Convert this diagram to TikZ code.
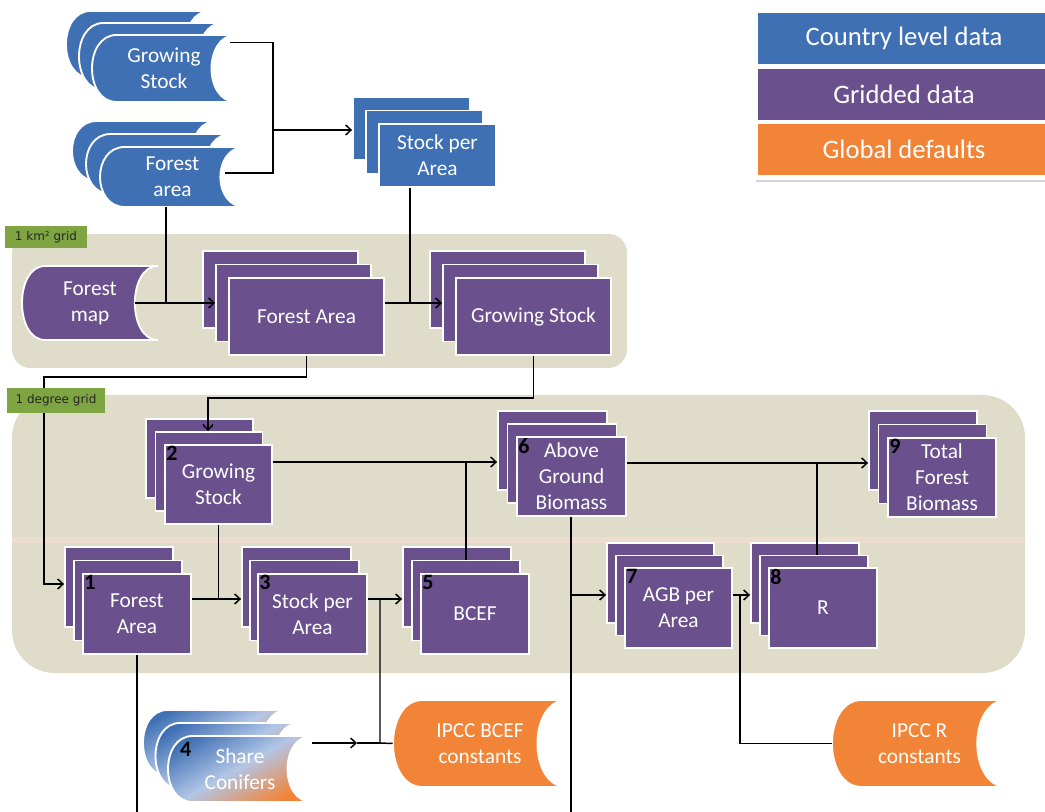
\documentclass[tikz,border=0pt]{standalone}
\usepackage{fontspec}
\setmainfont{Carlito}
\newfontfamily\lblfont{DejaVu Sans}
\usetikzlibrary{arrows.meta,calc,shadows}
\definecolor{cblue}{RGB}{64,112,180}
\definecolor{cpurple}{RGB}{106,81,142}
\definecolor{corange}{RGB}{242,132,56}
\definecolor{cbeige}{RGB}{223,220,201}
\definecolor{cgreen}{RGB}{127,165,66}
\definecolor{cband}{RGB}{236,221,207}
\definecolor{clight}{RGB}{178,198,230}
\tikzset{
  x=0.75pt, y=-0.75pt,
  txt/.style={text=white, font=\fontsize{16}{19.5}\selectfont, align=center},
  gboxs/.style={rectangle, fill=cpurple, draw=white, line width=1.4pt, inner sep=0pt, txt},
  bboxs/.style={rectangle, fill=cblue, draw=white, line width=1.4pt, inner sep=0pt, txt},
  sdbox/.style={rectangle, inner sep=0pt, txt},
  sdblue/.style={fill=cblue, draw=white, line width=1.4pt},
  sdpurple/.style={fill=cpurple, draw=white, line width=1.4pt},
  sdorange/.style={fill=corange, draw=white, line width=1.4pt},
  sdgrad/.style={draw=white, line width=1.4pt, top color=cblue, bottom color=corange, middle color=clight, shading angle=30},
  panel/.style={rectangle, fill=cbeige, inner sep=0pt},
  legitem/.style={rectangle, inner sep=0pt, text=white, font=\fontsize{20}{24}\selectfont},
  glabel/.style={rectangle, fill=cgreen, inner sep=0pt, text=black!85, font=\lblfont\fontsize{9}{11}\selectfont},
  num/.style={anchor=north west, inner sep=1.5pt, font=\bfseries\fontsize{16.5}{16.5}\selectfont, text=black},
  conn/.style={line width=1.1pt, draw=black},
  arr/.style={conn, -{Straight Barb[length=4pt,width=7.5pt]}},
}
% box by corners (px): name, x0, y0, x1, y1, style, text
\newcommand{\rbox}[7]{\node[#6, minimum width={((#4)-(#2))*0.75pt}, minimum height={((#5)-(#3))*0.75pt}] (#1) at ({((#2)+(#4))/2},{((#3)+(#5))/2}) {#7};}
\newcommand{\stackr}[9]{%
  \rbox{#1b}{(#2)-2*(#6)}{(#3)-2*(#7)}{(#4)-2*(#6)}{(#5)-2*(#7)}{#8}{}%
  \rbox{#1m}{(#2)-(#6)}{(#3)-(#7)}{(#4)-(#6)}{(#5)-(#7)}{#8}{}%
  \rbox{#1}{#2}{#3}{#4}{#5}{#8}{#9}}
% stored data outline
\newcommand{\sdshape}[5]{%
  \pgfmathsetmacro\sdr{0.17*((#3)-(#1))}%
  \path[#5] ({(#1)+\sdr},{#2}) -- ({#3},{#2}) .. controls ({(#3)-1.333*\sdr},{#2}) and ({(#3)-1.333*\sdr},{#4}) .. ({#3},{#4}) -- ({(#1)+\sdr},{#4}) .. controls ({(#1)-0.333*\sdr},{#4}) and ({(#1)-0.333*\sdr},{#2}) .. ({(#1)+\sdr},{#2}) -- cycle;}
\newcommand{\sd}[7]{%
  \sdshape{#2}{#3}{#4}{#5}{#6}%
  \rbox{#1}{#2}{#3}{#4}{#5}{sdbox}{#7}}
\newcommand{\stacksd}[9]{%
  \sd{#1b}{(#2)-2*(#6)}{(#3)-2*(#7)}{(#4)-2*(#6)}{(#5)-2*(#7)}{#8}{}%
  \sd{#1m}{(#2)-(#6)}{(#3)-(#7)}{(#4)-(#6)}{(#5)-(#7)}{#8}{}%
  \sd{#1}{#2}{#3}{#4}{#5}{#8}{#9}}
\begin{document}
\begin{tikzpicture}
\useasboundingbox (0,0) rectangle (1045,812);
% panels
\rbox{pkm}{12}{234}{627}{368}{panel, rounded corners=14pt}{}
\rbox{pdeg}{12}{395}{1025}{673}{panel, rounded corners=32pt}{}
\fill[cband] (12,537) rectangle (1025,543);
% legend
\rbox{legend}{754}{10}{1060}{180}{fill=white, drop shadow={opacity=0.35, shadow xshift=1.2pt, shadow yshift=-1.5pt}}{}
\rbox{lgc}{758}{13}{1050}{64}{legitem, fill=cblue}{Country level data}
\rbox{lgg}{758}{69}{1050}{120}{legitem, fill=cpurple}{Gridded data}
\rbox{lgd}{758}{124}{1050}{175}{legitem, fill=corange}{Global defaults}
% country level
\stacksd{gsC}{92}{35}{236}{102}{13}{12}{sdblue}{Growing\\Stock}
\stacksd{faC}{100}{147}{245}{207}{14}{13}{sdblue}{Forest\\area}
\stackr{spaC}{379}{124}{496}{187}{13}{13.5}{bboxs}{Stock per\\Area}
% 1 km grid
\sd{fmap}{22}{266}{158}{340}{sdpurple}{Forest\\map}
\stackr{fa1k}{229}{278}{384}{355}{13}{13.5}{gboxs}{Forest Area}
\stackr{gs1k}{456}{278}{611}{355}{13}{13.5}{gboxs}{Growing Stock}
% 1 degree grid
\stackr{gs2}{165}{445}{272}{524}{9.5}{13}{gboxs}{Growing\\Stock}
\stackr{fa1}{83}{574}{191}{654}{9}{13.5}{gboxs}{Forest\\Area}
\stackr{spa3}{258}{574}{367}{654}{8}{13.5}{gboxs}{Stock per\\Area}
\stackr{bcef5}{421}{574}{529}{654}{9}{13.5}{gboxs}{BCEF}
\stackr{agb6}{517}{437}{626}{516}{9.5}{13}{gboxs}{Above\\Ground\\Biomass}
\stackr{agbpa7}{625}{568}{732}{648}{9}{12.5}{gboxs}{AGB per\\Area}
\stackr{r8}{769}{568}{877}{648}{9}{12.5}{gboxs}{R}
\stackr{tfb9}{888}{438}{996}{517}{9.5}{13.5}{gboxs}{Total\\Forest\\Biomass}
% defaults
\stacksd{sc4}{168}{736}{312}{802}{12.5}{13}{sdgrad}{Share\\Conifers}
\sd{ipccb}{393}{700}{567}{787}{sdorange}{IPCC BCEF\\constants}
\sd{ipccr}{832}{700}{1007}{787}{sdorange}{IPCC R\\constants}
% numbers
\node[num] (n1) at (fa1.north west) {1};
\node[num] (n2) at (gs2.north west) {2};
\node[num] (n3) at (spa3.north west) {3};
\node[num] (n4) at ($(sc4.north west)+(10,4)$) {4};
\node[num] (n5) at (bcef5.north west) {5};
\node[num] (n6) at (agb6.north west) {6};
\node[num] (n7) at (agbpa7.north west) {7};
\node[num] (n8) at (r8.north west) {8};
\node[num] (n9) at (tfb9.north west) {9};
% connectors: country level
\coordinate (j1) at (273,130);
\draw[conn] ($(gsC.north east)+(-6,8)$) -| (j1);
\draw[conn] ($(faC.east)+(-20,-4)$) -| (j1);
\draw[arr] (j1) -- (j1 -| spaCb.west);
% 1 km
\coordinate (j2) at (166,303);
\coordinate (j3) at (410,303);
\draw[conn] (faC.south -| j2) -- (j2);
\draw[arr] ($(fmap.east)+(-23,0)$) -- (fa1km.west |- j2);
\draw[conn] (spaC.south -| j3) -- (j3);
\draw[arr] (fa1k.east |- j3) -- (gs1km.west |- j3);
% to 1 degree
\coordinate (k1) at (44,377);
\draw[arr] (fa1k.south) |- (k1) |- ($(fa1b.west)+(0,-3)$);
\coordinate (k2) at (208,398);
\draw[arr] (gs1k.south) |- (k2) -- (k2 |- gs2m.north);
% 1 degree
\coordinate (k3) at (218,599);
\draw[conn] (gs2.south) -- (gs2.south |- k3);
\draw[arr] (fa1.east |- k3) -- (spa3b.west |- k3);
\coordinate (k4) at (380,599);
\coordinate (k5) at (380,743);
\draw[arr] (spa3.east |- k4) -- (bcef5b.west |- k4);
\draw[conn] (k4) -- (k5) -- (ipccb.west);
\coordinate (k6) at (357,743);
\draw[arr] (sc4.north east |- k6) -- (k6);
\draw[conn, line width=1.6pt] (k6) -- (k5);
\coordinate (k7) at (466,462);
\draw[arr] (gs2.east |- k7) -- (agb6b.west |- k7);
\draw[conn] (k7) -- (k7 |- bcef5m.north);
\coordinate (k8) at (817,463);
\draw[arr] (agb6.east |- k8) -- (tfb9b.west |- k8);
\draw[conn] (k8) -- (k8 |- r8m.north);
\coordinate (k9) at (571,595);
\coordinate (k10) at (571,812);
\draw[conn] (agb6.south -| k9) -- (k10);
\draw[arr] (k9) -- (agbpa7b.west |- k9);
\coordinate (k11) at (740,595);
\draw[arr] (agbpa7.east |- k11) -- (r8b.west |- k11);
\draw[conn] (k11) |- (ipccr.west);
\coordinate (k12) at (137,812);
\draw[conn] (fa1.south) -- (k12);
% grid labels
\rbox{lkm}{5}{226}{87}{248}{glabel}{1 km² grid}
\rbox{ldeg}{7}{388}{105}{413}{glabel}{1 degree grid}
\end{tikzpicture}
\end{document}
